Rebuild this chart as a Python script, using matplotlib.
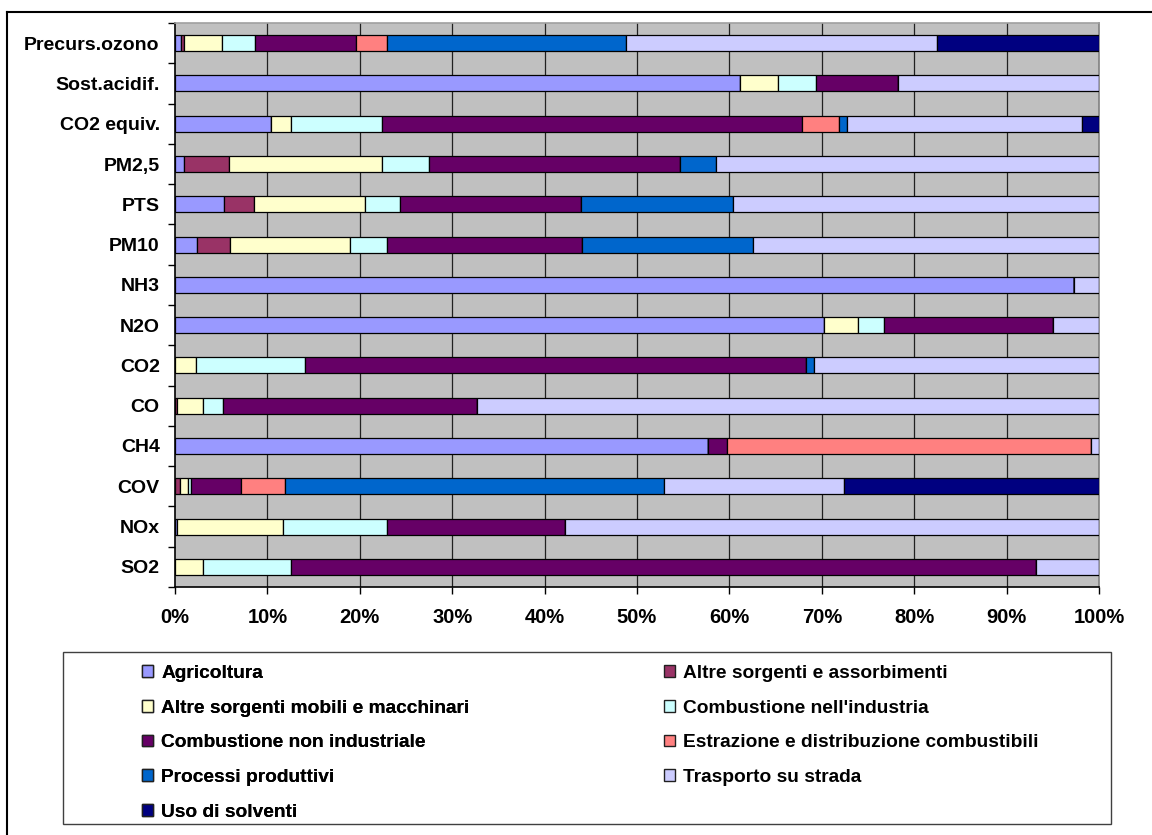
import matplotlib
matplotlib.use("Agg")
import matplotlib.pyplot as plt
from matplotlib.lines import Line2D
from matplotlib.patches import Patch, Rectangle
import numpy as np

plt.rcParams["font.family"] = ["Liberation Sans", "DejaVu Sans"]
plt.rcParams["font.weight"] = "bold"

# categories, top to bottom as in the reference
categories = ["Precurs.ozono", "Sost.acidif.", "CO2 equiv.", "PM2,5", "PTS", "PM10",
              "NH3", "N2O", "CO2", "CO", "CH4", "COV", "NOx", "SO2"]

# percentage share of each source (same order as categories)
agricoltura = [0.6, 61.2, 10.4, 1.0, 5.3, 2.4, 97.3, 70.2, 0, 0, 57.7, 0, 0.25, 0]
altre_assorbimenti = [0.4, 0, 0, 4.8, 3.2, 3.6, 0, 0, 0, 0.25, 0, 0.5, 0, 0]
altre_mobili = [4.1, 4.1, 2.1, 16.6, 12.1, 12.9, 0, 3.7, 2.3, 2.75, 0, 0.9, 11.45, 3.0]
comb_industria = [3.6, 4.1, 9.9, 5.1, 3.8, 4.0, 0, 2.8, 11.8, 2.2, 0, 0.3, 11.2, 9.6]
comb_non_industriale = [10.9, 8.9, 45.5, 27.2, 19.5, 21.2, 0, 18.3, 54.2, 27.5, 2.0, 5.4, 19.3, 80.6]
estrazione = [3.3, 0, 4.0, 0, 0, 0, 0, 0, 0, 0, 39.4, 4.8, 0, 0]
processi = [25.9, 0, 0.8, 3.9, 16.5, 18.5, 0, 0, 0.9, 0, 0, 41.0, 0, 0]
trasporto = [33.7, 21.7, 25.5, 41.4, 39.6, 37.4, 2.7, 5.0, 30.8, 67.3, 0.9, 19.5, 57.8, 6.8]
solventi = [17.5, 0, 1.8, 0, 0, 0, 0, 0, 0, 0, 0, 27.6, 0, 0]

series_names = ["Agricoltura", "Altre sorgenti e assorbimenti",
                "Altre sorgenti mobili e macchinari", "Combustione nell'industria",
                "Combustione non industriale", "Estrazione e distribuzione combustibili",
                "Processi produttivi", "Trasporto su strada", "Uso di solventi"]
series_values = [agricoltura, altre_assorbimenti, altre_mobili, comb_industria,
                 comb_non_industriale, estrazione, processi, trasporto, solventi]
series_colors = ["#9999FF", "#993366", "#FFFFCC", "#CCFFFF", "#660066",
                 "#FF8080", "#0066CC", "#CCCCFF", "#000080"]

W, H = 1152, 835
fig = plt.figure(figsize=(W / 100, H / 100), dpi=100)
ax = fig.add_axes([175 / W, 1 - 587 / H, 924 / W, 564 / H])
ax.set_facecolor("#C0C0C0")

n = len(categories)
y = np.arange(n)[::-1]
left = np.zeros(n)
for name, vals, col in zip(series_names, series_values, series_colors):
    vals = np.array(vals, dtype=float)
    ax.barh(y, vals, left=left, height=0.4, color=col, edgecolor="black",
            linewidth=0.9, zorder=3, label=name)
    left += vals

ax.set_xlim(0, 100)
ax.set_ylim(-0.5, n - 0.5)

# grid
for gx in range(10, 100, 10):
    ax.axvline(gx, color="#202020", linewidth=0.9, zorder=1)

ax.set_xticks(range(0, 101, 10))
ax.set_xticklabels([f"{v}%" for v in range(0, 101, 10)])
ax.set_yticks(y)
ax.set_yticklabels(categories)
ax.set_yticks(np.arange(-0.5, n, 1.0), minor=True)
ax.tick_params(axis="y", which="major", length=0, pad=11, labelsize=14)
ax.tick_params(axis="y", which="minor", length=5, width=1, direction="out", color="black")
ax.tick_params(axis="x", which="major", length=5, width=1, direction="out", pad=10,
               labelsize=14.5)

ax.spines["left"].set_color("black")
ax.spines["bottom"].set_color("black")
ax.spines["top"].set_color("#A0A0A0")
ax.spines["right"].set_color("#808080")
for s in ax.spines.values():
    s.set_linewidth(1.2)

# legend, two columns inside a framed box
handles = [Patch(facecolor=c, edgecolor="#202020", linewidth=1.0) for c in series_colors]
left_idx = [0, 2, 4, 6, 8]
right_idx = [1, 3, 5, 7]
common = dict(frameon=False, fontsize=13.8, handlelength=0.55, handleheight=0.55,
              handletextpad=0.45, labelspacing=0.92, borderpad=0, borderaxespad=0)
leg1 = fig.legend([handles[i] for i in left_idx], [series_names[i] for i in left_idx],
                  loc="upper left", bbox_to_anchor=(142 / W, 1 - 665 / H), **common)
leg2 = fig.legend([handles[i] for i in right_idx], [series_names[i] for i in right_idx],
                  loc="upper left", bbox_to_anchor=(664 / W, 1 - 665 / H), **common)
fig.add_artist(leg1)

fig.add_artist(Rectangle((63 / W, 1 - 824 / H), (1111 - 63) / W, (824 - 652) / H,
                         transform=fig.transFigure, fill=False, edgecolor="#404040",
                         linewidth=1.0))

# outer chart frame (cut off at right and bottom)
fig.add_artist(Line2D([7 / W, 1], [1 - 12 / H, 1 - 12 / H], transform=fig.transFigure,
                      color="black", linewidth=1.5))
fig.add_artist(Line2D([7 / W, 7 / W], [0, 1 - 12 / H], transform=fig.transFigure,
                      color="black", linewidth=1.5))

fig.savefig("out.png", dpi=100)
